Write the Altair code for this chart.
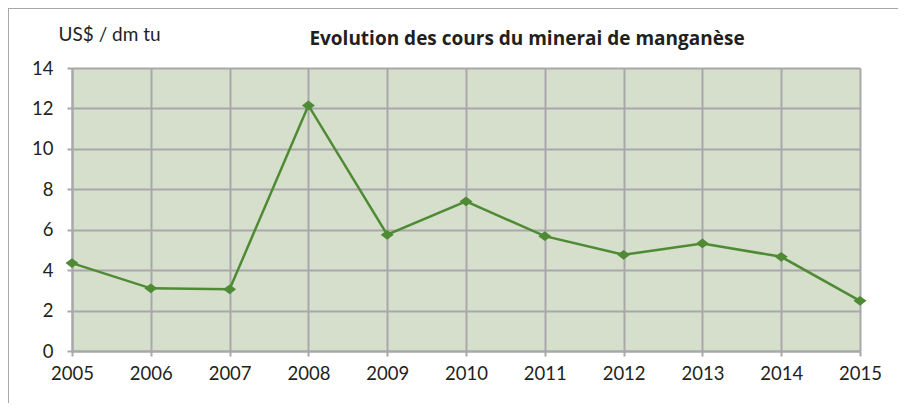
import altair as alt
import pandas as pd

years = [2005, 2006, 2007, 2008, 2009, 2010, 2011, 2012, 2013, 2014, 2015]
prices = [4.35, 3.1, 3.05, 12.15, 5.75, 7.4, 5.68, 4.76, 5.32, 4.66, 2.48]
y_ticks = [0, 2, 4, 6, 8, 10, 12, 14]
title_text = "Evolution des cours du minerai de manganèse"
y_title = "US$ / dm tu"

df = pd.DataFrame({"year": years, "price": prices})

GREEN = "#4f8a35"
GRID = "#a8a8ab"
TXT = "#231f20"
FONT = "Lato"

x = alt.X("year:Q", scale=alt.Scale(domain=[2005, 2015], nice=False, zero=False),
          axis=alt.Axis(values=years, format="d", title=None, grid=True, labelFlush=False,
                        gridColor=GRID, gridWidth=2, domainColor=GRID, domainWidth=2,
                        tickColor=GRID, tickWidth=2, tickSize=5,
                        labelFont=FONT, labelFontSize=18.5, labelColor=TXT, labelPadding=8))
y = alt.Y("price:Q", scale=alt.Scale(domain=[0, 14], nice=False),
          axis=alt.Axis(values=y_ticks, title=y_title, grid=True,
                        gridColor=GRID, gridWidth=2, domainColor=GRID, domainWidth=2,
                        tickColor=GRID, tickWidth=2, tickSize=5,
                        labelFont=FONT, labelFontSize=18.5, labelColor=TXT, labelPadding=14,
                        titleAngle=0, titleAlign="left", titleBaseline="alphabetic",
                        titleX=-14, titleY=-28, titleFont=FONT, titleFontSize=19,
                        titleFontWeight="normal", titleColor=TXT))

line = alt.Chart(df).mark_line(color=GREEN, strokeWidth=2.5).encode(x=x, y=y)
pts = alt.Chart(df).mark_point(
    shape="M-1,0L0,-0.75L1,0L0,0.75Z", size=169, filled=True, color=GREEN, opacity=1
).encode(x="year:Q", y="price:Q")

frame_df = pd.DataFrame({"k": [0]})
left_rule = alt.Chart(frame_df).mark_rule(color=GRID, strokeWidth=2).encode(
    x=alt.value(-64), y=alt.value(-60), y2=alt.value(400))
top_rule = alt.Chart(frame_df).mark_rule(color=GRID, strokeWidth=2).encode(
    x=alt.value(-64), x2=alt.value(900), y=alt.value(-60))

title_df = pd.DataFrame({"t": [title_text]})
title_mark = alt.Chart(title_df).mark_text(
    font="Open Sans", fontSize=19, fontWeight="bold", color=TXT, align="center",
    baseline="alphabetic"
).encode(text="t:N", x=alt.value(455), y=alt.value(-23))

chart = alt.layer(left_rule, top_rule, line, pts, title_mark).properties(
    width=788, height=283,
    autosize=alt.AutoSizeParams(type="none"),
    padding={"left": 64, "top": 60, "right": 38, "bottom": 52},
).configure_view(fill="#d6dfcb", stroke=None)

chart.save("out.html", embed_options={"renderer": "svg", "actions": False})
